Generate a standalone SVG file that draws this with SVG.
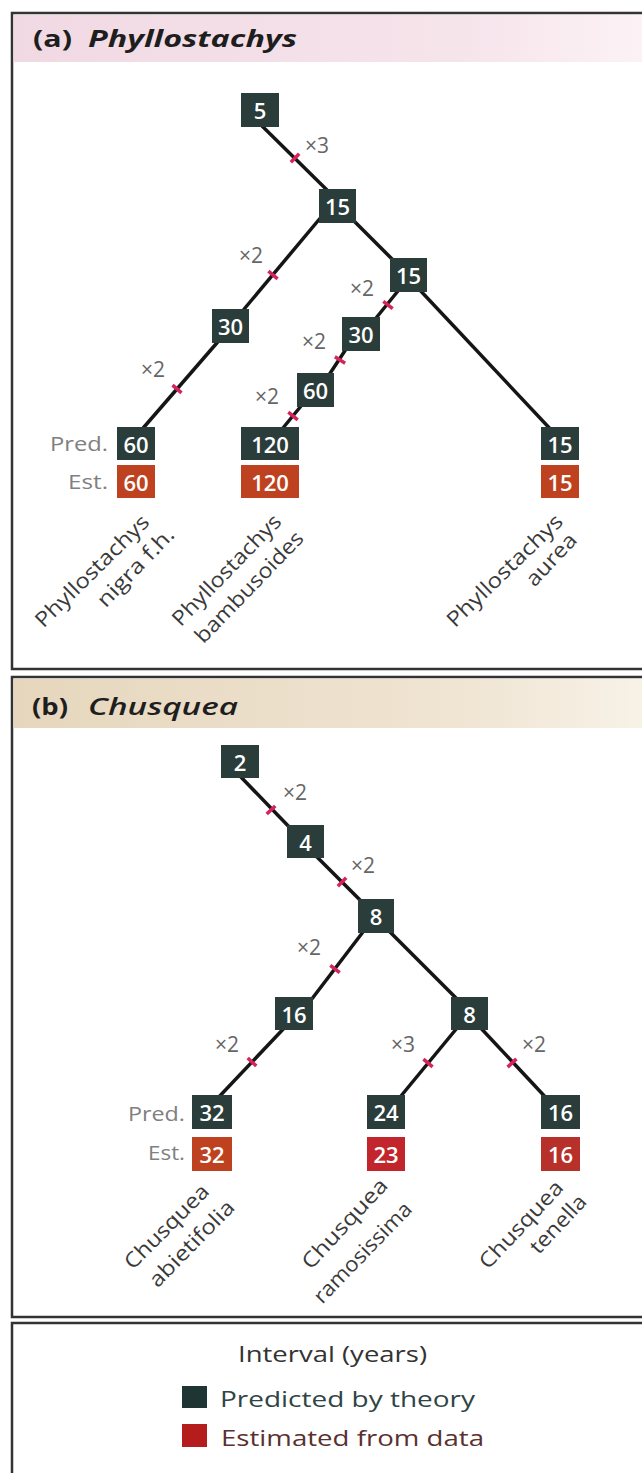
<svg xmlns="http://www.w3.org/2000/svg" width="642" height="1473" viewBox="0 0 642 1473">
<defs>
<linearGradient id="hdrA" x1="0" y1="0" x2="1" y2="0">
<stop offset="0" stop-color="#f1d9e3"/><stop offset="0.7" stop-color="#f6e4eb"/><stop offset="1" stop-color="#fcf3f6"/>
</linearGradient>
<linearGradient id="hdrB" x1="0" y1="0" x2="1" y2="0">
<stop offset="0" stop-color="#e6d6bd"/><stop offset="0.7" stop-color="#f0e5d3"/><stop offset="1" stop-color="#f8f2e8"/>
</linearGradient>
<style>
.frame{fill:#fff;stroke:#333;stroke-width:2.5}
.edge{stroke:#151515;stroke-width:3.5;fill:none;stroke-linecap:butt}
.tick{stroke:#d6245a;stroke-width:3.5;stroke-linecap:butt}
.pred{fill:#2a3d3b}
.est{fill:#bf4220}
.num{font-family:"Open Sans","DejaVu Sans",sans-serif;font-size:22px;font-weight:600;fill:#fff;text-anchor:middle;dominant-baseline:central}
.mul{font-family:"Open Sans","DejaVu Sans",sans-serif;font-size:21px;fill:#666}
.row{font-family:"Open Sans","DejaVu Sans",sans-serif;font-size:20px;fill:#808080;text-anchor:end}
.sp{font-family:"Open Sans","DejaVu Sans",sans-serif;font-size:21px;fill:#3a3a3a;text-anchor:middle;dominant-baseline:central}
.ttl{font-family:"Open Sans","DejaVu Sans",sans-serif;font-size:23px;fill:#1e1e1e}
.leg{font-family:"Open Sans","DejaVu Sans",sans-serif;font-size:22px}
</style>
</defs>
<rect width="642" height="1473" fill="#fff"/>

<!-- panel (a) -->
<g id="panel-a">
<rect class="frame" x="12" y="13" width="660" height="656"/>
<rect x="13.5" y="15" width="640" height="47" fill="url(#hdrA)"/>
<text class="ttl" x="33" y="47" font-weight="700" textLength="39" lengthAdjust="spacingAndGlyphs">(a)</text>
<text class="ttl" x="88" y="47" font-weight="700" font-style="italic" textLength="209" lengthAdjust="spacingAndGlyphs">Phyllostachys</text>
</g>

<!-- panel (b) -->
<g id="panel-b">
<rect class="frame" x="12" y="677" width="660" height="640"/>
<rect x="13.5" y="679" width="640" height="49" fill="url(#hdrB)"/>
<text class="ttl" x="32" y="715" font-weight="700" textLength="36" lengthAdjust="spacingAndGlyphs">(b)</text>
<text class="ttl" x="88" y="715" font-weight="600" font-style="italic" textLength="150" lengthAdjust="spacingAndGlyphs">Chusquea</text>
</g>

<!-- legend -->
<g id="legend">
<rect class="frame" x="12" y="1323" width="660" height="170"/>
<text class="leg" x="238" y="1362" fill="#333" textLength="189" lengthAdjust="spacingAndGlyphs">Interval (years)</text>
<rect x="182" y="1386" width="25" height="22" fill="#1f3533"/>
<text class="leg" x="220" y="1407" fill="#2f4545" textLength="255" lengthAdjust="spacingAndGlyphs">Predicted by theory</text>
<rect x="182" y="1424" width="25" height="23" fill="#b51d1d"/>
<text class="leg" x="221" y="1446" fill="#5a3030" textLength="263" lengthAdjust="spacingAndGlyphs">Estimated from data</text>
</g>

<!-- connectors -->
<g id="connectors">
<line class="edge" x1="258" y1="122" x2="329" y2="192"/>
<line class="edge" x1="322" y1="216" x2="240" y2="314"/>
<line class="edge" x1="222" y1="337" x2="138" y2="434"/>
<line class="edge" x1="348" y1="215" x2="400" y2="267"/>
<line class="edge" x1="417" y1="287" x2="555" y2="434"/>
<line class="edge" x1="402" y1="286" x2="372" y2="323"/>
<line class="edge" x1="352" y1="340" x2="325" y2="381"/>
<line class="edge" x1="306" y1="400" x2="278" y2="434"/>

<line class="edge" x1="239" y1="775" x2="295" y2="833"/>
<line class="edge" x1="315" y1="855" x2="370" y2="910"/>
<line class="edge" x1="366" y1="928" x2="308" y2="1004"/>
<line class="edge" x1="386" y1="928" x2="460" y2="1002"/>
<line class="edge" x1="288" y1="1024" x2="216" y2="1100"/>
<line class="edge" x1="462" y1="1022" x2="396" y2="1102"/>
<line class="edge" x1="477" y1="1024" x2="550" y2="1102"/>

<line class="tick" x1="290.8" y1="162.3" x2="299.2" y2="153.7"/>
<line class="tick" x1="268.4" y1="271.1" x2="277.6" y2="278.9"/>
<line class="tick" x1="172.5" y1="385.1" x2="181.5" y2="392.9"/>
<line class="tick" x1="383.3" y1="301.3" x2="392.7" y2="308.7"/>
<line class="tick" x1="334.9" y1="356.8" x2="345.1" y2="363.2"/>
<line class="tick" x1="288.3" y1="412.2" x2="297.7" y2="419.8"/>

<line class="tick" x1="266.7" y1="814.1" x2="275.3" y2="805.9"/>
<line class="tick" x1="337.8" y1="886.2" x2="346.2" y2="877.8"/>
<line class="tick" x1="330.3" y1="965.3" x2="339.7" y2="972.7"/>
<line class="tick" x1="247.7" y1="1057.9" x2="256.3" y2="1066.1"/>
<line class="tick" x1="423.4" y1="1059.2" x2="432.6" y2="1066.8"/>
<line class="tick" x1="507.6" y1="1067.1" x2="516.4" y2="1058.9"/>

<text class="mul" x="305" y="153">×3</text>
<text class="mul" x="239" y="263">×2</text>
<text class="mul" x="141" y="377">×2</text>
<text class="mul" x="350" y="296">×2</text>
<text class="mul" x="302" y="349">×2</text>
<text class="mul" x="255" y="404">×2</text>

<text class="mul" x="283" y="800">×2</text>
<text class="mul" x="351" y="873">×2</text>
<text class="mul" x="297" y="955">×2</text>
<text class="mul" x="215" y="1052">×2</text>
<text class="mul" x="391" y="1052">×3</text>
<text class="mul" x="522" y="1052">×2</text>
</g>

<!-- panel (a) nodes -->
<g id="a-n5"><rect class="pred" x="241" y="93" width="38" height="34"/><text class="num" x="260" y="110">5</text></g>
<g id="a-n15a"><rect class="pred" x="319" y="189" width="37" height="34"/><text class="num" x="337.5" y="206">15</text></g>
<g id="a-n15b"><rect class="pred" x="390" y="258" width="37" height="34"/><text class="num" x="408.5" y="275">15</text></g>
<g id="a-n30l"><rect class="pred" x="212" y="309" width="37" height="34"/><text class="num" x="230.5" y="326">30</text></g>
<g id="a-n30m"><rect class="pred" x="342" y="317" width="38" height="34"/><text class="num" x="361" y="334">30</text></g>
<g id="a-n60m"><rect class="pred" x="297" y="373" width="37" height="34"/><text class="num" x="315.5" y="390">60</text></g>

<g id="a-leaf-nigra">
<text class="row" x="108" y="451" textLength="58" lengthAdjust="spacingAndGlyphs">Pred.</text>
<text class="row" x="108" y="489" textLength="40" lengthAdjust="spacingAndGlyphs">Est.</text>
<rect class="pred" x="117" y="427" width="38" height="33"/><text class="num" x="136" y="443.5">60</text>
<rect class="est" x="117" y="465" width="38" height="33"/><text class="num" x="136" y="481.5">60</text>
<text class="sp" transform="translate(91.5,570.5) rotate(-44.5)" textLength="150" lengthAdjust="spacingAndGlyphs">Phyllostachys</text>
<text class="sp" transform="translate(135,566.5) rotate(-46)" textLength="101" lengthAdjust="spacingAndGlyphs">nigra f.h.</text>
</g>
<g id="a-leaf-bambusoides">
<rect class="pred" x="241" y="427" width="58" height="33"/><text class="num" x="270" y="443.5">120</text>
<rect class="est" x="241" y="465" width="58" height="33"/><text class="num" x="270" y="481.5">120</text>
<text class="sp" transform="translate(226,569.5) rotate(-45.8)" textLength="146" lengthAdjust="spacingAndGlyphs">Phyllostachys</text>
<text class="sp" transform="translate(248.5,586.5) rotate(-46)" textLength="146" lengthAdjust="spacingAndGlyphs">bambusoides</text>
</g>
<g id="a-leaf-aurea">
<rect class="pred" x="541" y="427" width="38" height="33"/><text class="num" x="560" y="443.5">15</text>
<rect class="est" x="541" y="465" width="38" height="33"/><text class="num" x="560" y="481.5">15</text>
<text class="sp" transform="translate(504,570) rotate(-44)" textLength="152" lengthAdjust="spacingAndGlyphs">Phyllostachys</text>
<text class="sp" transform="translate(550.5,559) rotate(-47)" textLength="64" lengthAdjust="spacingAndGlyphs">aurea</text>
</g>

<!-- panel (b) nodes -->
<g id="b-n2"><rect class="pred" x="221" y="745" width="38" height="33"/><text class="num" x="240" y="761.5">2</text></g>
<g id="b-n4"><rect class="pred" x="287" y="825" width="37" height="33"/><text class="num" x="305.5" y="841.5">4</text></g>
<g id="b-n8a"><rect class="pred" x="358" y="899" width="36" height="34"/><text class="num" x="376" y="916">8</text></g>
<g id="b-n16"><rect class="pred" x="275" y="997" width="38" height="33"/><text class="num" x="294" y="1013.5">16</text></g>
<g id="b-n8b"><rect class="pred" x="451" y="997" width="37" height="33"/><text class="num" x="469.5" y="1013.5">8</text></g>

<g id="b-leaf-abietifolia">
<text class="row" x="185" y="1121" textLength="57" lengthAdjust="spacingAndGlyphs">Pred.</text>
<text class="row" x="185" y="1160" textLength="37" lengthAdjust="spacingAndGlyphs">Est.</text>
<rect class="pred" x="192" y="1095" width="40" height="34"/><text class="num" x="212" y="1112">32</text>
<rect class="est" x="192" y="1137" width="40" height="34" fill="#c24a22"/><text class="num" x="212" y="1154">32</text>
<text class="sp" transform="translate(166,1226) rotate(-45)" textLength="110" lengthAdjust="spacingAndGlyphs">Chusquea</text>
<text class="sp" transform="translate(191,1243) rotate(-45.5)" textLength="112" lengthAdjust="spacingAndGlyphs">abietifolia</text>
</g>
<g id="b-leaf-ramosissima">
<rect class="pred" x="367" y="1095" width="38" height="34"/><text class="num" x="386" y="1112">24</text>
<rect class="est" x="367" y="1137" width="38" height="34" style="fill:#c2262c"/><text class="num" x="386" y="1154">23</text>
<text class="sp" transform="translate(344,1223) rotate(-47)" textLength="115" lengthAdjust="spacingAndGlyphs">Chusquea</text>
<text class="sp" transform="translate(362,1252) rotate(-46)" textLength="131" lengthAdjust="spacingAndGlyphs">ramosissima</text>
</g>
<g id="b-leaf-tenella">
<rect class="pred" x="541" y="1095" width="39" height="34"/><text class="num" x="560.5" y="1112">16</text>
<rect class="est" x="541" y="1137" width="39" height="34" style="fill:#b8302a"/><text class="num" x="560.5" y="1154">16</text>
<text class="sp" transform="translate(520.5,1224) rotate(-46.8)" textLength="112" lengthAdjust="spacingAndGlyphs">Chusquea</text>
<text class="sp" transform="translate(557.5,1223.5) rotate(-47)" textLength="72" lengthAdjust="spacingAndGlyphs">tenella</text>
</g>
</svg>
